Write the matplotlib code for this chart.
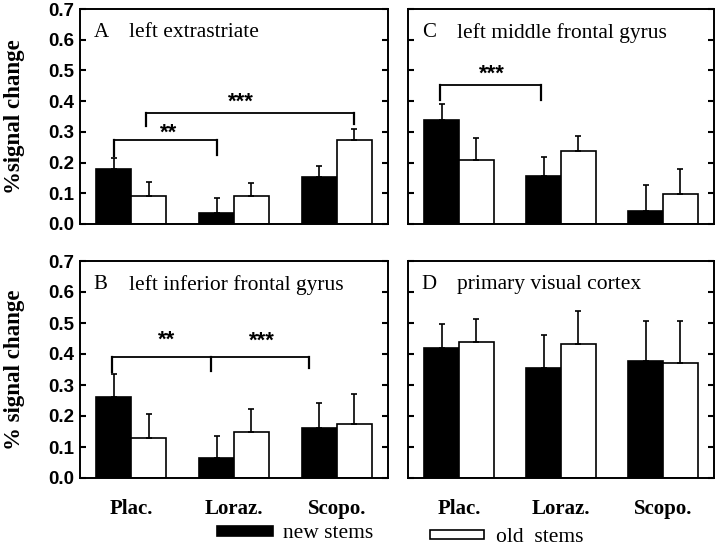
import matplotlib
matplotlib.use('Agg')
import matplotlib.pyplot as plt
import numpy as np

plt.rcParams['font.family'] = ['Liberation Serif', 'DejaVu Serif']

# data
conditions = ['Plac.', 'Loraz.', 'Scopo.']
panels = ['A', 'C', 'B', 'D']
titles = {'A': 'left extrastriate', 'C': 'left middle frontal gyrus',
          'B': 'left inferior frontal gyrus', 'D': 'primary visual cortex'}
new_mean = {'A': [0.18, 0.035, 0.152], 'C': [0.34, 0.155, 0.042],
            'B': [0.262, 0.065, 0.161], 'D': [0.42, 0.356, 0.377]}
new_err = {'A': [0.035, 0.049, 0.036], 'C': [0.052, 0.064, 0.086],
           'B': [0.073, 0.072, 0.081], 'D': [0.077, 0.104, 0.131]}
old_mean = {'A': [0.09, 0.09, 0.272], 'C': [0.209, 0.237, 0.097],
            'B': [0.129, 0.150, 0.173], 'D': [0.438, 0.433, 0.372]}
old_err = {'A': [0.046, 0.043, 0.036], 'C': [0.07, 0.05, 0.083],
           'B': [0.079, 0.071, 0.097], 'D': [0.076, 0.105, 0.136]}
yticks = [0.0, 0.1, 0.2, 0.3, 0.4, 0.5, 0.6, 0.7]
ylabels = {'A': '%signal change', 'B': '% signal change'}

# significance brackets: leg x positions, bar y, leg bottom ends, label, label x, label y
brackets = {
    'A': [([-0.17, 0.83], 0.274, [0.222, 0.226], '**', 0.36, 0.295),
          ([0.14, 2.17], 0.362, [0.32, 0.326], '***', 1.07, 0.397)],
    'C': [([-0.19, 0.80], 0.454, [0.403, 0.405], '***', 0.32, 0.488)],
    'B': [([-0.19, 0.78, 1.73], 0.389, [0.343, 0.345, 0.354], '**', 0.34, 0.445),
          ([], 0.389, [], '***', 1.27, 0.44)],
    'D': [],
}

fig = plt.figure(figsize=(7.2, 5.46), dpi=100)
rects = {'A': [80/720, 1-224/546, 308/720, 215/546],
         'C': [408/720, 1-224/546, 306/720, 215/546],
         'B': [80/720, 1-478/546, 308/720, 217/546],
         'D': [408/720, 1-478/546, 306/720, 217/546]}

w = 0.34
x = np.arange(len(conditions))
for p in panels:
    ax = fig.add_axes(rects[p])
    ekw = dict(lw=1.2, capthick=1.2)
    bn = ax.bar(x - w/2, new_mean[p], w, color='black', edgecolor='black', lw=1.2,
                yerr=[np.zeros(3), new_err[p]], capsize=2, error_kw=ekw)
    bo = ax.bar(x + w/2, old_mean[p], w, color='white', edgecolor='black', lw=1.2,
                yerr=[np.zeros(3), old_err[p]], capsize=2, error_kw=ekw)
    ax.set_xlim(-0.5, 2.5)
    ax.set_ylim(0, 0.7)
    ax.set_yticks(yticks)
    for s in ax.spines.values():
        s.set_linewidth(1.4)
    ax.tick_params(axis='y', direction='in', length=4, width=1.5, left=True, right=True, pad=4)
    ax.tick_params(axis='x', length=0, pad=15)
    if p in ('A', 'B'):
        ax.set_yticklabels(['%.1f' % t for t in yticks], family='Liberation Sans',
                           fontweight='bold', fontsize=13.5)
        ax.set_ylabel(ylabels[p], fontsize=16.5, fontweight='bold')
        ax.yaxis.set_label_coords(-0.18, 0.5)
    else:
        ax.set_yticklabels([])
    if p in ('B', 'D'):
        ax.set_xticks(x)
        ax.set_xticklabels(conditions, fontsize=15, fontweight='bold')
    else:
        ax.set_xticks([])
    ax.text(0.045, 0.89, p, transform=ax.transAxes, fontsize=15, va='center')
    ax.text(0.16, 0.89, titles[p], transform=ax.transAxes, fontsize=15.5, va='center')
    for legs, yb, ends, lab, lx, ly in brackets[p]:
        if legs:
            ax.plot([legs[0], legs[-1]], [yb, yb], color='black', lw=1.3)
            for lxp, e in zip(legs, ends):
                ax.plot([lxp, lxp], [yb, e], color='black', lw=1.6)
        ax.text(lx, ly, lab, ha='center', va='center', fontsize=16,
                fontweight='bold', family='Liberation Sans')
    if p == 'B':
        h_new = bn
    if p == 'D':
        h_old = bo

fig.legend([h_new], ['new stems'], loc='center left', bbox_to_anchor=(217/720, 1-534/546),
           frameon=False, fontsize=15.5, handlelength=2.6, handleheight=0.35,
           handletextpad=0.45, borderpad=0, borderaxespad=0)
fig.legend([h_old], ['old  stems'], loc='center left', bbox_to_anchor=(430/720, 1-538/546),
           frameon=False, fontsize=15.5, handlelength=2.5, handleheight=0.3,
           handletextpad=0.55, borderpad=0, borderaxespad=0)

plt.savefig('out.png', dpi=100)
plt.close()
